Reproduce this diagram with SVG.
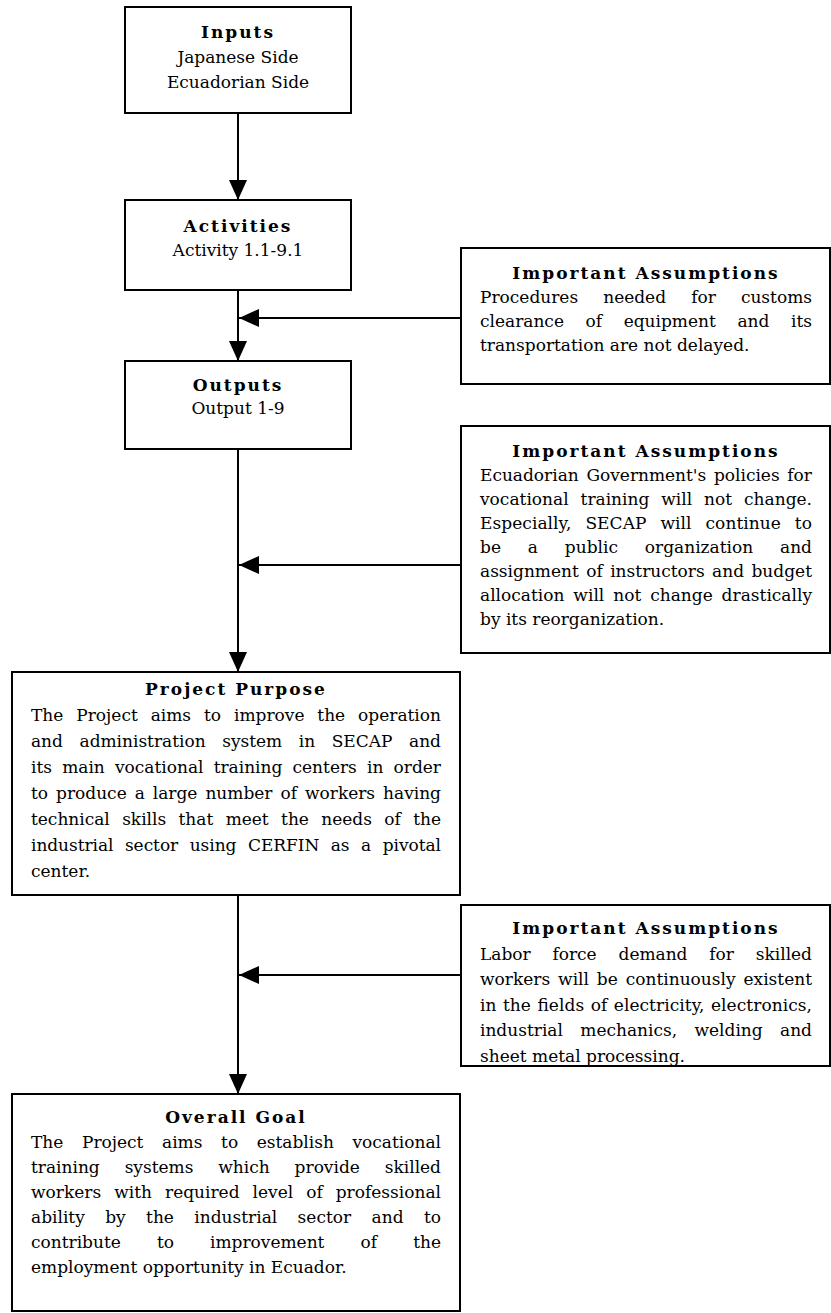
<svg xmlns="http://www.w3.org/2000/svg" width="831" height="1313" viewBox="0 0 831 1313">
<style>
.box{fill:#fff;stroke:#000;stroke-width:2}
.t{font-family:"DejaVu Serif",serif;font-size:17px;fill:#000}
.c{text-anchor:middle}
.h{font-family:"DejaVu Serif",serif;font-size:17px;font-weight:bold;letter-spacing:2px;text-anchor:middle;fill:#000}
.conn{stroke:#000;stroke-width:2;fill:none}
</style>
<defs>
<marker id="ah" markerUnits="userSpaceOnUse" markerWidth="20" markerHeight="20" viewBox="0 0 20 20" refX="20" refY="10" orient="auto">
<path d="M0,1 L20,10 L0,19 Z" fill="#000"/>
</marker>
<clipPath id="clip3"><rect x="461" y="905" width="369" height="160"/></clipPath>
</defs>
<rect width="831" height="1313" fill="#fff"/>

<g id="connectors">
<line class="conn" x1="238" y1="113" x2="238" y2="200" marker-end="url(#ah)"/>
<line class="conn" x1="238" y1="290" x2="238" y2="361" marker-end="url(#ah)"/>
<line class="conn" x1="238" y1="449" x2="238" y2="672" marker-end="url(#ah)"/>
<line class="conn" x1="238" y1="895" x2="238" y2="1094" marker-end="url(#ah)"/>
<line class="conn" x1="461" y1="318" x2="239" y2="318" marker-end="url(#ah)"/>
<line class="conn" x1="461" y1="565" x2="239" y2="565" marker-end="url(#ah)"/>
<line class="conn" x1="461" y1="975" x2="239" y2="975" marker-end="url(#ah)"/>
</g>

<g id="inputs">
<rect class="box" x="125" y="7" width="226" height="106"/>
<text class="h" x="238" y="38">Inputs</text>
<text class="t c" x="238" y="63">Japanese Side</text>
<text class="t c" x="238" y="88">Ecuadorian Side</text>
</g>

<g id="activities">
<rect class="box" x="125" y="200" width="226" height="90"/>
<text class="h" x="238" y="232">Activities</text>
<text class="t c" x="238" y="256">Activity 1.1-9.1</text>
</g>

<g id="outputs">
<rect class="box" x="125" y="361" width="226" height="88"/>
<text class="h" x="238" y="391">Outputs</text>
<text class="t c" x="238" y="414">Output 1-9</text>
</g>

<g id="assumptions1">
<rect class="box" x="461" y="248" width="369" height="136"/>
<text class="h" x="646" y="279">Important Assumptions</text>
<text class="t" x="480" y="303" textLength="332" lengthAdjust="spacing" style="word-spacing:19.7px">Procedures needed for customs</text>
<text class="t" x="480" y="327" textLength="332" lengthAdjust="spacing" style="word-spacing:16.2px">clearance of equipment and its</text>
<text class="t" x="480" y="351">transportation are not delayed.</text>
</g>

<g id="assumptions2">
<rect class="box" x="461" y="426" width="369" height="227"/>
<text class="h" x="646" y="457">Important Assumptions</text>
<text class="t" x="480" y="481" textLength="332" lengthAdjust="spacing" style="word-spacing:2.3px">Ecuadorian Government's policies for</text>
<text class="t" x="480" y="505" textLength="332" lengthAdjust="spacing" style="word-spacing:6.5px">vocational training will not change.</text>
<text class="t" x="480" y="529" textLength="332" lengthAdjust="spacing" style="word-spacing:8.5px">Especially, SECAP will continue to</text>
<text class="t" x="480" y="553" textLength="332" lengthAdjust="spacing" style="word-spacing:21.5px">be a public organization and</text>
<text class="t" x="480" y="577" textLength="332" lengthAdjust="spacing" style="word-spacing:2px">assignment of instructors and budget</text>
<text class="t" x="480" y="601" textLength="332" lengthAdjust="spacing" style="word-spacing:3.5px">allocation will not change drastically</text>
<text class="t" x="480" y="625">by its reorganization.</text>
</g>

<g id="project-purpose">
<rect class="box" x="12" y="672" width="448" height="223"/>
<text class="h" x="236" y="695">Project Purpose</text>
<text class="t" x="31" y="721" textLength="410" lengthAdjust="spacing" style="word-spacing:7.5px">The Project aims to improve the operation</text>
<text class="t" x="31" y="747" textLength="410" lengthAdjust="spacing" style="word-spacing:11.2px">and administration system in SECAP and</text>
<text class="t" x="31" y="773" textLength="410" lengthAdjust="spacing" style="word-spacing:4.8px">its main vocational training centers in order</text>
<text class="t" x="31" y="799" textLength="410" lengthAdjust="spacing" style="word-spacing:2.6px">to produce a large number of workers having</text>
<text class="t" x="31" y="825" textLength="410" lengthAdjust="spacing" style="word-spacing:7px">technical skills that meet the needs of the</text>
<text class="t" x="31" y="851" textLength="410" lengthAdjust="spacing" style="word-spacing:6.2px">industrial sector using CERFIN as a pivotal</text>
<text class="t" x="31" y="877">center.</text>
</g>

<g id="assumptions3">
<rect class="box" x="461" y="905" width="369" height="161"/>
<text class="h" x="646" y="934">Important Assumptions</text>
<text class="t" x="480" y="959.5" textLength="332" lengthAdjust="spacing" style="word-spacing:16.5px">Labor force demand for skilled</text>
<text class="t" x="480" y="985" textLength="332" lengthAdjust="spacing" style="word-spacing:2.5px">workers will be continuously existent</text>
<text class="t" x="480" y="1010.5" textLength="332" lengthAdjust="spacing" style="word-spacing:1px">in the fields of electricity, electronics,</text>
<text class="t" x="480" y="1036" textLength="332" lengthAdjust="spacing" style="word-spacing:12px">industrial mechanics, welding and</text>
<text class="t" x="480" y="1062" clip-path="url(#clip3)">sheet metal processing.</text>
</g>

<g id="overall-goal">
<rect class="box" x="12" y="1094" width="448" height="217"/>
<text class="h" x="236" y="1123">Overall Goal</text>
<text class="t" x="31" y="1148" textLength="410" lengthAdjust="spacing" style="word-spacing:13.2px">The Project aims to establish vocational</text>
<text class="t" x="31" y="1173" textLength="410" lengthAdjust="spacing" style="word-spacing:19.5px">training systems which provide skilled</text>
<text class="t" x="31" y="1198" textLength="410" lengthAdjust="spacing" style="word-spacing:7.6px">workers with required level of professional</text>
<text class="t" x="31" y="1223" textLength="410" lengthAdjust="spacing" style="word-spacing:15px">ability by the industrial sector and to</text>
<text class="t" x="31" y="1248" textLength="410" lengthAdjust="spacing" style="word-spacing:30.7px">contribute to improvement of the</text>
<text class="t" x="31" y="1273">employment opportunity in Ecuador.</text>
</g>
</svg>
